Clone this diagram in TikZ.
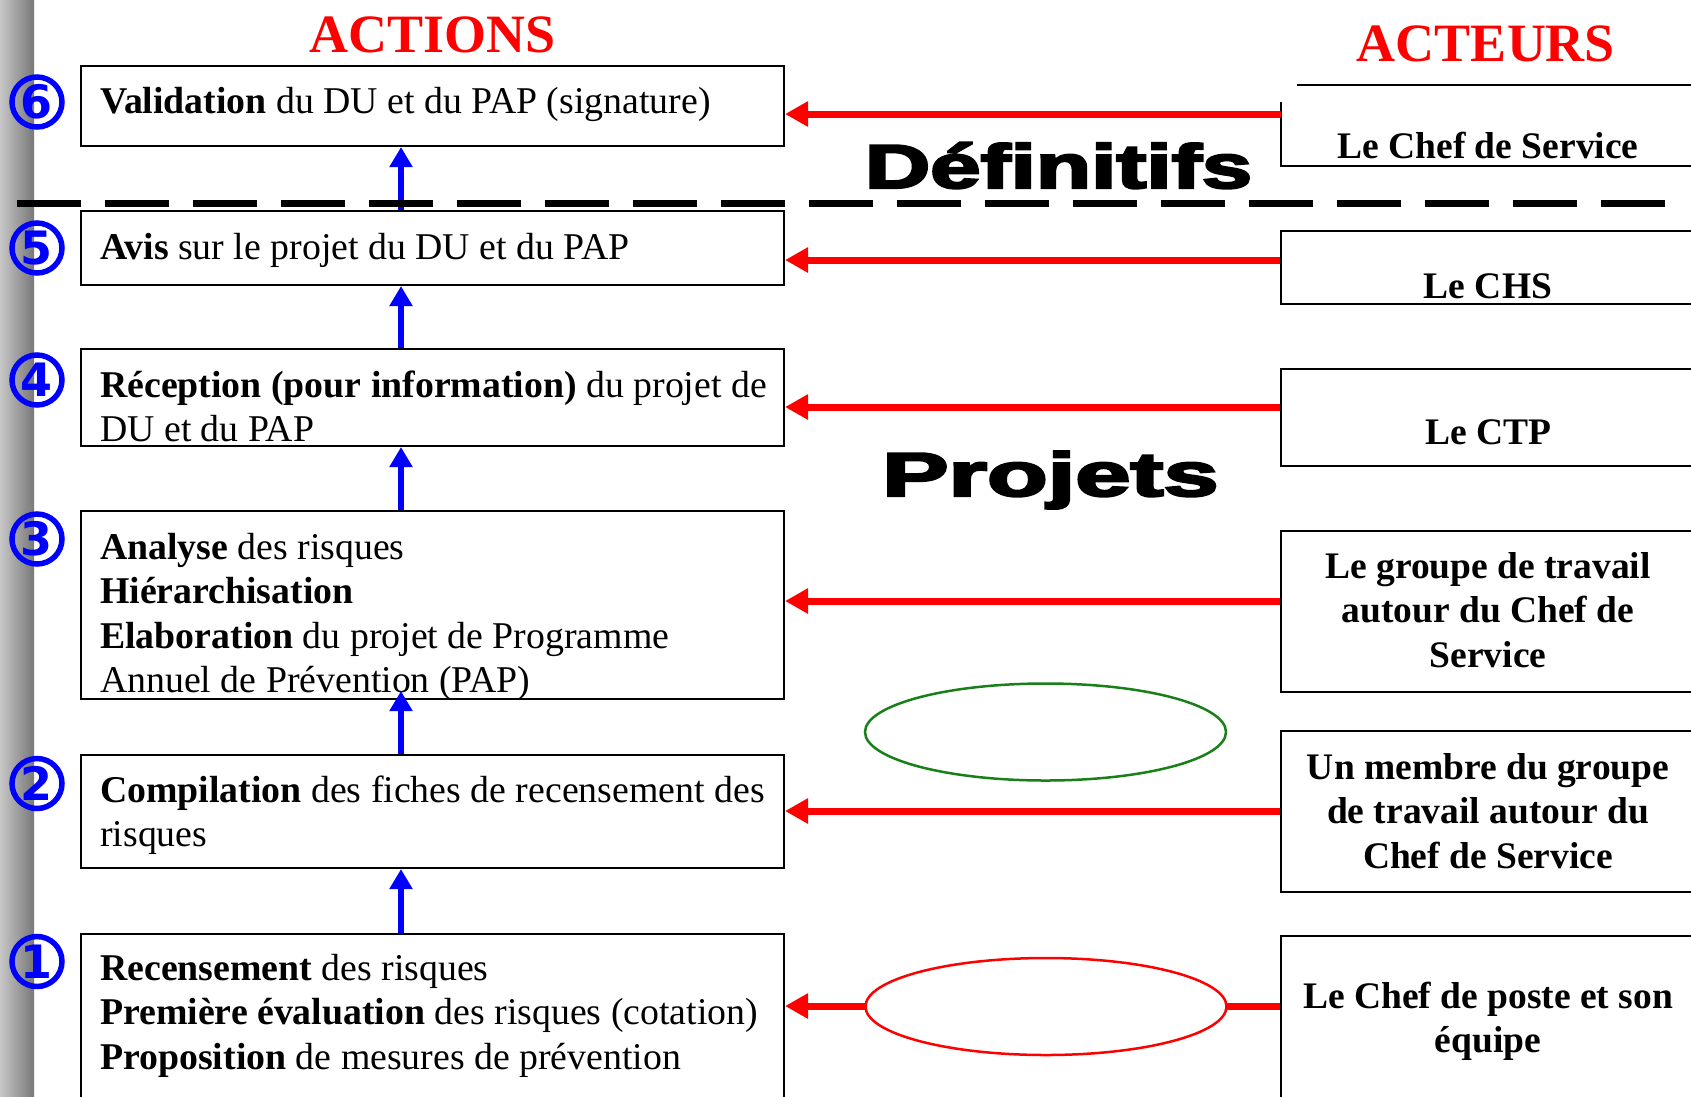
\documentclass[tikz,border=0pt]{standalone}
\usepackage{fontspec}
\setmainfont{Liberation Serif}
\newfontfamily\heavyfont{Liberation Sans}[BoldFeatures={FakeBold=3.5}]
\newfontfamily\digitfont{DejaVu Sans}
\usetikzlibrary{arrows.meta,shapes.geometric}
\definecolor{barL}{gray}{0.78}
\definecolor{barR}{gray}{0.47}
\definecolor{elgreen}{rgb}{0.1,0.5,0.1}
\newcommand\myleft[1]{\parbox[t]{700pt}{\raggedright\fontsize{37.8}{44.6}\selectfont #1}}
\newcommand\myright[1]{\parbox[t]{420pt}{\centering\bfseries\fontsize{37.5}{44.6}\selectfont #1}}
\tikzset{
 abox/.style={draw=black, line width=2pt, minimum width=703pt, inner sep=0pt, rectangle},
 rbox/.style={draw=black, line width=2pt, minimum width=439pt, inner sep=0pt, rectangle},
 redarr/.style={draw=red, line width=7pt, -{Triangle[length=23pt,width=24pt]}},
 bluearr/.style={draw=blue, line width=6pt, -{Triangle[length=20pt,width=22pt]}},
 numc/.style={circle, draw=blue, line width=5.5pt, text=blue, minimum size=50pt, inner sep=0pt, font=\digitfont\bfseries\fontsize{46}{46}\selectfont},
 ltext/.style={anchor=base west, inner sep=0pt},
 rtext/.style={anchor=base, inner sep=0pt},
 title/.style={anchor=base, inner sep=0pt, text=red, font=\bfseries\fontsize{54}{54}\selectfont},
 heavy/.style={anchor=base, inner sep=0pt, font=\heavyfont\bfseries\fontsize{62}{62}\selectfont},
}
\begin{document}
\begin{tikzpicture}[x=1pt,y=-1pt]
\useasboundingbox (0,0) rectangle (1691,1096);
\fill[white] (0,0) rectangle (1691,1096);
\shade[left color=barL, right color=barR] (0,0) rectangle (34,1096);

% titles
\node[title] (tact) at (433,52) {ACTIONS};
\node[title] (tacteur) at (1486,61) {ACTEURS};

% action boxes
\node[abox, minimum height=80pt] (b6) at (432.5,106) {};
\node[abox, minimum height=74pt] (b5) at (432.5,248) {};
\node[abox, minimum height=97pt] (b4) at (432.5,397.5) {};
\node[abox, minimum height=188pt] (b3) at (432.5,605) {};
\node[abox, minimum height=113pt] (b2) at (432.5,811.5) {};
\node[abox, minimum height=176pt] (b1) at (432.5,1022) {};

\node[ltext] (t6) at (100,113) {\myleft{\textbf{Validation} du DU et du PAP (signature)}};
\node[ltext] (t5) at (100,259) {\myleft{\textbf{Avis} sur le projet du DU et du PAP}};
\node[ltext] (t4) at (100,397) {\myleft{\textbf{Réception (pour information)} du projet de\\DU et du PAP}};
\node[ltext] (t3) at (100,559) {\myleft{\textbf{Analyse} des risques\\\textbf{Hiérarchisation}\\\textbf{Elaboration} du projet de Programme\\Annuel de Prévention (PAP)}};
\node[ltext] (t2) at (100,802) {\myleft{\textbf{Compilation} des fiches de recensement des\\risques}};
\node[ltext] (t1) at (100,980) {\myleft{\textbf{Recensement} des risques\\\textbf{Première évaluation} des risques (cotation)\\\textbf{Proposition} de mesures de prévention}};

% actor boxes
\node[minimum width=439pt, minimum height=64pt, inner sep=0pt] (r6) at (1500.5,134) {};
\draw[line width=2pt] (r6.north west) -- (r6.south west) -- (r6.south east);
\coordinate (topl) at (1297,85);
\coordinate (topr) at (1720,85);
\draw[line width=2pt] (topl) -- (topr);
\node[rbox, minimum height=73pt] (r5) at (1500.5,267.5) {};
\node[rbox, minimum height=97pt] (r4) at (1500.5,417.5) {};
\node[rbox, minimum height=161pt] (r3) at (1500.5,611.5) {};
\node[rbox, minimum height=161pt] (r2) at (1500.5,811.5) {};
\node[rbox, minimum height=174pt] (r1) at (1500.5,1023) {};

\node[rtext] (s6) at (1488,158) {\myright{Le Chef de Service}};
\node[rtext] (s5) at (1488,298) {\myright{Le CHS}};
\node[rtext] (s4) at (1488,444) {\myright{Le CTP}};
\node[rtext] (s3) at (1488,578) {\myright{Le groupe de travail\\autour du Chef de\\Service}};
\node[rtext] (s2) at (1488,779) {\myright{Un membre du groupe\\de travail autour du\\Chef de Service}};
\node[rtext] (s1) at (1488,1008) {\myright{Le Chef de poste et son\\équipe}};

% blue arrows
\coordinate (ax) at (401,0);
\coordinate (t3tip) at ([yshift=9pt]b3.south);
\draw[bluearr] (ax |- b5.north) -- (ax |- b6.south);
\draw[bluearr] (ax |- b4.north) -- (ax |- b5.south);
\draw[bluearr] (ax |- b3.north) -- (ax |- b4.south);
\draw[bluearr] (ax |- b2.north) -- (ax |- t3tip);
\draw[bluearr] (ax |- b1.north) -- (ax |- b2.south);

% red arrows
\coordinate (y6) at (0,114);
\coordinate (y5) at (0,260);
\coordinate (y4) at (0,407);
\coordinate (y3) at (0,601);
\coordinate (y2) at (0,811);
\coordinate (y1) at (0,1006);
\draw[redarr] (r6.west |- y6) -- (b6.east |- y6);
\draw[redarr] (r5.west |- y5) -- (b5.east |- y5);
\draw[redarr] (r4.west |- y4) -- (b4.east |- y4);
\draw[redarr] (r3.west |- y3) -- (b3.east |- y3);
\draw[redarr] (r2.west |- y2) -- (b2.east |- y2);
\draw[redarr] (r1.west |- y1) -- (b1.east |- y1);

% ellipses
\node[ellipse, draw=elgreen, line width=2.5pt, minimum width=361pt, minimum height=97pt, inner sep=0pt] (eg) at (1045.5,732) {};
\node[ellipse, draw=red, fill=white, line width=2.5pt, minimum width=361pt, minimum height=97pt, inner sep=0pt] (er) at (1046,1006.5) {};

% big words
\node[heavy] (wdef) at (1058.5,188) {\scalebox{1.46}[1]{Définitifs}};
\node[heavy] (wproj) at (1050.5,496) {\scalebox{1.6}[1]{Projets}};

% dashed separator
\coordinate (dl) at (17,203.5);
\coordinate (dr) at (1669,203.5);
\draw[line width=7pt, dash pattern=on 64pt off 24pt] (dl) -- (dr);

% step numbers
\node[numc] (c6) at (37,102) {6};
\node[numc] (c5) at (37,248) {5};
\node[numc] (c4) at (37,380) {4};
\node[numc] (c3) at (37,539) {3};
\node[numc] (c2) at (37,783.5) {2};
\node[numc] (c1) at (37,961.5) {1};
\end{tikzpicture}
\end{document}
